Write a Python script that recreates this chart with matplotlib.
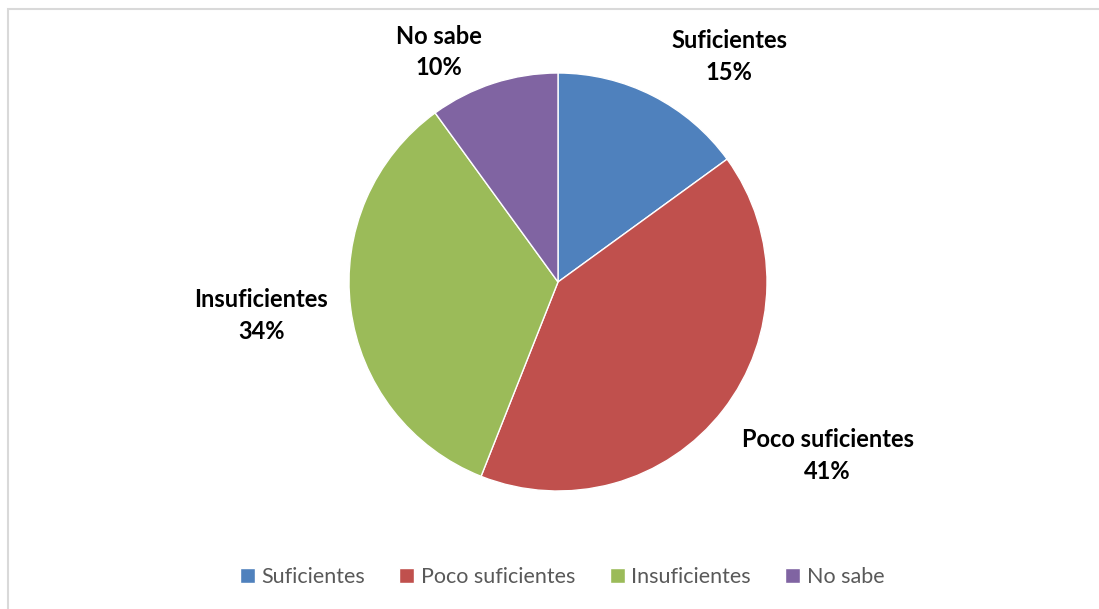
"""
Pie chart: Suficientes / Poco suficientes / Insuficientes / No sabe.
"""
import matplotlib
matplotlib.use("Agg")
import matplotlib.pyplot as plt
from matplotlib.patches import Rectangle

# data
categories = ['Suficientes', 'Poco suficientes', 'Insuficientes', 'No sabe']
values = [15, 41, 34, 10]
colors = ['#4F81BD', '#C0504D', '#9BBB59', '#8064A2']
# label positions, in units of the pie radius
label_pos = [(0.82, 1.08), (1.29, -0.83), (-1.42, -0.16), (-0.57, 1.10)]

W, H = 1099, 609
fig = plt.figure(figsize=(W / 100, H / 100), dpi=100)
plt.rcParams['font.family'] = ['Lato', 'DejaVu Sans']

# light gray chart border (only top and left are visible in the picture)
fig.patches.append(Rectangle((8 / W, -0.1), 1.2, (H - 9) / H + 0.1,
                             transform=fig.transFigure, fill=False,
                             edgecolor='#D9D9D9', linewidth=1.5))

cx, cy, r = 558, 282, 209
ax = fig.add_axes([(cx - r) / W, (H - cy - r) / H, 2 * r / W, 2 * r / H])
wedges, _ = ax.pie(values, colors=colors, startangle=90, counterclock=False,
                   radius=1.0, wedgeprops=dict(edgecolor='white', linewidth=1))
ax.set_xlim(-1, 1)
ax.set_ylim(-1, 1)
ax.set_aspect('equal')
ax.axis('off')

for (x, y), cat, v in zip(label_pos, categories, values):
    ax.text(x, y, f"{cat}\n{v}%", ha='center', va='center', fontsize=17,
            fontweight='bold', color='black', linespacing=1.45, clip_on=False)

fig.legend(wedges, categories, loc='center', bbox_to_anchor=(562 / W, 1 - 577 / H),
           ncol=4, frameon=False, fontsize=15.5, labelcolor='#595959',
           handlelength=0.7, handleheight=0.7, handletextpad=0.3,
           columnspacing=1.6)

fig.savefig('out.png', dpi=100)
